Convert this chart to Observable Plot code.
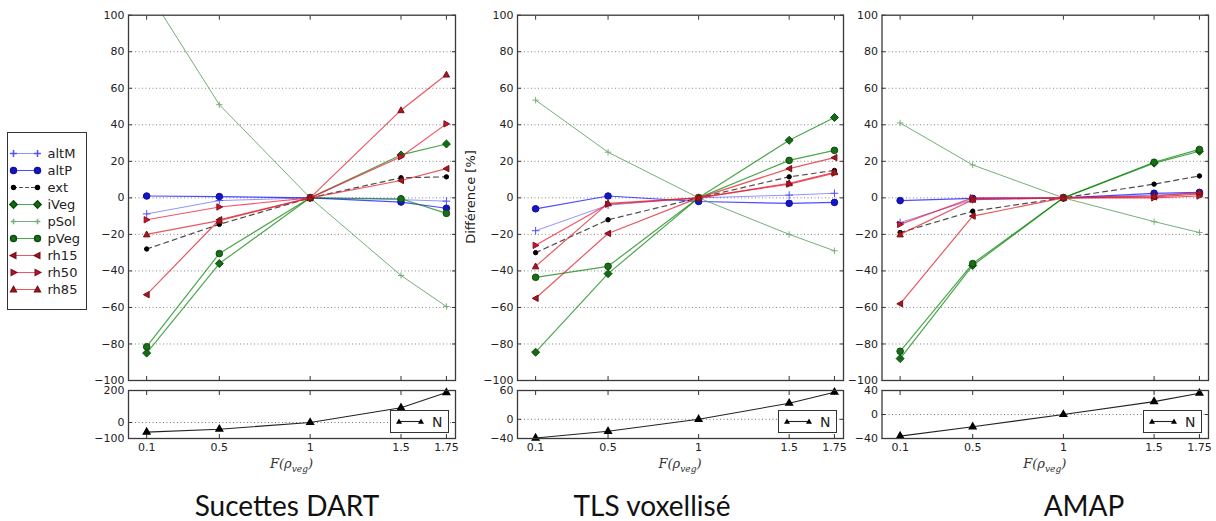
<!DOCTYPE html>
<html><head><meta charset="utf-8">
<script src="https://cdn.jsdelivr.net/npm/d3@7"></script>
<script src="https://cdn.jsdelivr.net/npm/@observablehq/plot@0.6"></script>
<style>
body{margin:0;background:#fff;width:1216px;height:521px;position:relative;overflow:hidden;font-family:"DejaVu Sans",sans-serif;}
.abs{position:absolute;}
svg{overflow:visible}
.title{position:absolute;font-family:Lato,"Open Sans",sans-serif;font-size:28px;color:#111;white-space:nowrap;transform:translateX(-50%);}
.xlab{position:absolute;font-family:"DejaVu Serif","Liberation Serif",serif;font-style:italic;font-size:13px;color:#333;white-space:nowrap;transform:translateX(-50%);}
.xlab sub{font-size:9px;}
.nleg{position:absolute;width:57px;height:21px;border:1px solid #333;background:#fff;}
</style></head><body>
<script>
// ---------- data ----------
const fValues = [0.1, 0.5, 1, 1.5, 1.75];
const seriesNames = ["altM","altP","ext","iVeg","pSol","pVeg","rh15","rh50","rh85"];
// rows follow seriesNames order, columns follow fValues
const dartValues = [
  [-8.8, -1.5, 0, -1, -1.8],
  [1, 0.7, 0, -2.3, -5.7],
  [-28, -14.5, 0, 11, 11.5],
  [-85, -36, 0, 23.5, 29.5],
  [114, 51, 0, -42.5, -59.5],
  [-81.5, -30.5, 0, -0.5, -8.5],
  [-53, -12, 0, 9.5, 16],
  [-12, -5, 0, 22.5, 40.5],
  [-20, -12.5, 0, 48, 67.5]
];
const tlsValues = [
  [-18, -4, 0, 1.5, 2.5],
  [-6, 1, -2, -3, -2.5],
  [-30, -12, 0, 11.5, 15],
  [-84.5, -41.5, 0, 31.5, 44],
  [53.5, 25, 0, -20, -29],
  [-43.5, -37.5, 0, 20.5, 26],
  [-55, -19.5, 0, 16, 22],
  [-26, -3.5, 0, 7.5, 13.5],
  [-37.5, -3, 0, 8, 14]
];
const amapValues = [
  [-13.5, -1, 0, 1.5, 2.5],
  [-1.5, -0.3, 0, 2.5, 3],
  [-19, -7.3, 0, 7.5, 12],
  [-88, -37, 0, 19, 25.5],
  [41, 18, 0, -13, -19],
  [-84, -36, 0, 19.5, 26.5],
  [-58, -10, 0, 0.5, 2],
  [-14.5, 0, 0, 0, 1],
  [-20, -1, 0, 1, 3]
];
const dartN = [-60, -42, 0, 92, 187];
const tlsN = [-39, -25, 0, 33.5, 56.5];
const amapN = [-36, -20.5, 0, 21.5, 35.5];
const mainTicks = [-100, -80, -60, -40, -20, 0, 20, 40, 60, 80, 100];
const gridTicks = [-80, -60, -40, -20, 0, 20, 40, 60, 80];
const dartNTicks = [-100, 0, 200];
const tlsNTicks = [-40, 0, 60];
const amapNTicks = [-40, 0, 40];
const panelTitles = ["Sucettes DART", "TLS voxellisé", "AMAP"];
const yLabel = "Différence [%]";

// ---------- styles ----------
function tri(angle){
  return {draw(c, size){
    const r = Math.sqrt(size/Math.PI)*1.15;
    const pts = [[r,0],[-0.75*r,-0.95*r],[-0.75*r,0.95*r]].map(([x,y]) => [x*Math.cos(angle)-y*Math.sin(angle), x*Math.sin(angle)+y*Math.cos(angle)]);
    c.moveTo(pts[0][0],pts[0][1]); c.lineTo(pts[1][0],pts[1][1]); c.lineTo(pts[2][0],pts[2][1]); c.closePath();
  }};
}
const styles = {
  altM: {line:"#3a3aff", op:0.55, w:1, dash:null, sym:"plus", r:2.6, fill:"none", mstroke:"#5050ff"},
  altP: {line:"#0000ff", op:0.7, w:1.2, dash:null, sym:"circle", r:3.3, fill:"#1515c8", mstroke:"#1010a0"},
  ext:  {line:"#000000", op:0.7, w:1.2, dash:"5,4", sym:"circle", r:2.2, fill:"#000", mstroke:"#000"},
  iVeg: {line:"#008000", op:0.7, w:1.2, dash:null, sym:"diamond2", r:3.6, fill:"#136b13", mstroke:"#0b4d0b"},
  pSol: {line:"#3d8a3d", op:0.7, w:1, dash:null, sym:"plus", r:2.2, fill:"none", mstroke:"#7aae7a"},
  pVeg: {line:"#008000", op:0.7, w:1.2, dash:null, sym:"circle", r:3.3, fill:"#1a6e1a", mstroke:"#0b4d0b"},
  rh15: {line:"#e0202e", op:0.75, w:1.2, dash:null, sym:tri(Math.PI), r:2.9, fill:"#a8161e", mstroke:"#7a1015"},
  rh50: {line:"#f01838", op:0.75, w:1.2, dash:null, sym:tri(0), r:2.9, fill:"#c8162a", mstroke:"#8a1020"},
  rh85: {line:"#e0202e", op:0.75, w:1.2, dash:null, sym:tri(-Math.PI/2), r:2.9, fill:"#a8161e", mstroke:"#7a1015"}
};

const panels = [
  {values: dartValues, n: dartN, nTicks: dartNTicks, left: 0, width: 460, frameLeft: 128, frameRight: 455, titleX: 287},
  {values: tlsValues, n: tlsN, nTicks: tlsNTicks, left: 460, width: 388, frameLeft: 517, frameRight: 843, titleX: 652},
  {values: amapValues, n: amapN, nTicks: amapNTicks, left: 848, width: 368, frameLeft: 881.5, frameRight: 1208, titleX: 1084}
];

const fmt = d => d < 0 ? "\u2212" + (-d) : String(d);
const baseStyle = {fontFamily: "'DejaVu Sans', sans-serif", fontSize: "11px", overflow: "visible", background: "transparent", color: "#222"};

function place(el, left, top){
  const wrap = document.createElement("div");
  wrap.className = "abs";
  wrap.style.left = left + "px";
  wrap.style.top = top + "px";
  wrap.appendChild(el);
  document.body.appendChild(wrap);
  return wrap;
}

panels.forEach((p, pi) => {
  const rows = seriesNames.flatMap((name, i) => fValues.map((f, j) => ({name, f, v: p.values[i][j]})));
  const seriesMarks = seriesNames.flatMap(name => {
    const s = styles[name];
    const d = rows.filter(r => r.name === name);
    return [
      Plot.line(d, {x: "f", y: "v", stroke: s.line, strokeOpacity: s.op, strokeWidth: s.w, strokeDasharray: s.dash, clip: true}),
      Plot.dot(d, {x: "f", y: "v", symbol: s.sym, r: s.r, fill: s.fill, stroke: s.mstroke, strokeWidth: 1, clip: true})
    ];
  });
  const ml = p.frameLeft - p.left, mr = p.left + p.width - p.frameRight;
  const main = Plot.plot({
    width: p.width, height: 388, marginLeft: ml, marginRight: mr, marginTop: 14.7, marginBottom: 8,
    style: baseStyle,
    x: {domain: [0, 1.8], axis: null},
    y: {domain: [-100, 100], axis: null},
    marks: [
      Plot.ruleY(gridTicks, {stroke: "#888", strokeDasharray: "1,2.5", strokeWidth: 1}),
      Plot.axisY(mainTicks, {label: null, tickSize: -4, tickPadding: 8, tickFormat: fmt, stroke: "#333", fill: "#222"}),
      Plot.axisY(mainTicks, {label: null, anchor: "right", tickSize: -4, tickFormat: () => "", stroke: "#333"}),
      Plot.axisX(fValues, {label: null, tickSize: -4, tickFormat: () => "", stroke: "#333"}),
      Plot.axisX(fValues, {label: null, anchor: "top", tickSize: -4, tickFormat: () => "", stroke: "#333"}),
      ...seriesMarks,
      Plot.frame({stroke: "#3a3a3a", strokeWidth: 1.3})
    ]
  });
  place(main, p.left, 0);

  const nRows = fValues.map((f, j) => ({f, v: p.n[j]}));
  const nDomain = [p.nTicks[0], p.nTicks[p.nTicks.length - 1]];
  const small = Plot.plot({
    width: p.width, height: 88, marginLeft: ml, marginRight: mr, marginTop: 10, marginBottom: 30,
    style: baseStyle,
    x: {domain: [0, 1.8], axis: null},
    y: {domain: nDomain, axis: null},
    marks: [
      Plot.ruleY([0], {stroke: "#777", strokeDasharray: "1,2.5"}),
      Plot.axisY(p.nTicks, {label: null, tickSize: -4, tickPadding: 8, tickFormat: fmt, stroke: "#333", fill: "#222"}),
      Plot.axisY(p.nTicks, {label: null, anchor: "right", tickSize: -4, tickFormat: () => "", stroke: "#333"}),
      Plot.axisX(fValues, {label: null, tickSize: -4, tickPadding: 9, tickFormat: d => String(d), stroke: "#333", fill: "#222"}),
      Plot.axisX(fValues, {label: null, anchor: "top", tickSize: -4, tickFormat: () => "", stroke: "#333"}),
      Plot.line(nRows, {x: "f", y: "v", stroke: "#222", strokeWidth: 1.1}),
      Plot.dot(nRows, {x: "f", y: "v", symbol: "triangle", r: 2.4, fill: "#000", stroke: "#000"}),
      Plot.frame({stroke: "#3a3a3a", strokeWidth: 1.3})
    ]
  });
  place(small, p.left, 380);

  // N legend box
  const nb = document.createElement("div");
  nb.className = "nleg";
  nb.style.left = (p.frameRight - 65) + "px";
  nb.style.top = "410px";
  nb.innerHTML = `<svg width="57" height="21"><line x1="8" x2="30" y1="10.5" y2="10.5" stroke="#222" stroke-width="1.1"/>
    <path d="M8,7.5 L11,12.8 L5,12.8 Z M30,7.5 L33,12.8 L27,12.8 Z" fill="#000"/>
    <text x="41" y="16" font-family="DejaVu Sans" font-size="14" fill="#222">N</text></svg>`;
  document.body.appendChild(nb);

  // x label
  const xl = document.createElement("div");
  xl.className = "xlab";
  xl.style.left = ((p.frameLeft + p.frameRight) / 2) + "px";
  xl.style.top = "456px";
  xl.innerHTML = "F(ρ<sub>veg</sub>)";
  document.body.appendChild(xl);

  // title
  const t = document.createElement("div");
  t.className = "title";
  t.style.left = p.titleX + "px";
  t.style.top = "488px";
  t.textContent = panelTitles[pi];
  document.body.appendChild(t);
});

// y label on middle panel
const yl = document.createElement("div");
yl.className = "abs";
yl.style.cssText = "left:470px;top:197px;transform:translate(-50%,-50%) rotate(-90deg);font-size:13px;color:#222;white-space:nowrap;font-family:'DejaVu Sans',sans-serif;";
yl.textContent = yLabel;
document.body.appendChild(yl);

// series legend
const legendRows = seriesNames.flatMap(name => [0, 1].map(k => ({name, k})));
const legend = Plot.plot({
  width: 78, height: 176, margin: 0,
  style: {...baseStyle, fontSize: "13px"},
  x: {domain: [0, 1], range: [5, 29], axis: null},
  y: {type: "point", domain: seriesNames, range: [10.5, 164.5], axis: null},
  marks: [
    ...seriesNames.flatMap(name => {
      const s = styles[name];
      const d = legendRows.filter(r => r.name === name);
      return [
        Plot.line(d, {x: "k", y: "name", stroke: s.line, strokeOpacity: s.op, strokeWidth: s.w, strokeDasharray: s.dash ? "3,3" : null}),
        Plot.dot(d, {x: "k", y: "name", symbol: s.sym, r: s.r * 0.9, fill: s.fill, stroke: s.mstroke})
      ];
    }),
    Plot.text(seriesNames, {x: () => 1, y: d => d, text: d => d, dx: 10, textAnchor: "start", fill: "#222"})
  ]
});
const lw = place(legend, 7, 132);
lw.style.border = "1px solid #333";
lw.style.width = "78px";
lw.style.height = "176px";
lw.style.background = "#fff";
</script>
</body></html>
